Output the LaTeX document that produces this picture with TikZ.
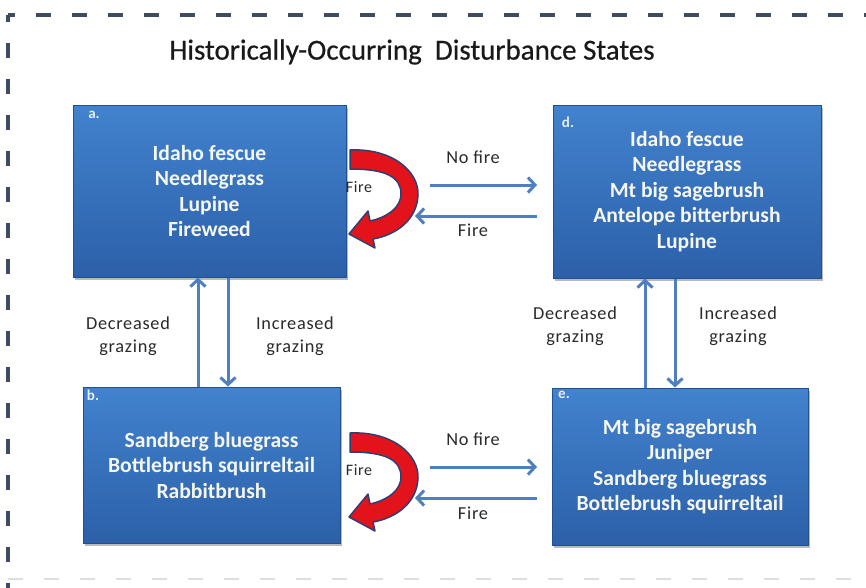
\documentclass[tikz,border=0pt]{standalone}
\usepackage{fontspec}
\setmainfont{Carlito}
\newfontfamily\spacedfont[LetterSpace=4]{Carlito}
\newfontfamily\titlefont[FakeBold=0.6]{Carlito}
\usetikzlibrary{arrows.meta,shadows}

\definecolor{boxtop}{HTML}{4282CE}
\definecolor{boxbot}{HTML}{2C60A9}
\definecolor{boxedge}{HTML}{22508E}
\definecolor{boxshine}{HTML}{7DB6F0}
\definecolor{flowblue}{HTML}{4F7FBF}
\definecolor{firered}{HTML}{E3131B}
\definecolor{fireedge}{HTML}{2E3F74}
\definecolor{framecol}{HTML}{3E4B61}
\definecolor{labelgray}{HTML}{2A2A2A}
\definecolor{boxtext}{HTML}{F5F7EE}

\begin{document}
\begin{tikzpicture}[x=1pt,y=-1pt,
  statebox/.style={rectangle, draw=boxedge, line width=1pt,
    top color=boxtop, bottom color=boxbot, text=boxtext,
    font=\fontsize{21.6}{25.5}\selectfont\bfseries, align=center, inner sep=0pt,
    drop shadow={shadow xshift=2pt, shadow yshift=-3pt, opacity=0.45, fill=black!60},
    path picture={\draw[boxshine, line width=2.5pt]
      (path picture bounding box.north west) -- (path picture bounding box.north east);}},
  tag/.style={text=boxtext!92!boxtop, font=\fontsize{15}{17}\selectfont\bfseries},
  flow/.style={draw=flowblue, line width=3pt,
    -{Straight Barb[length=7pt,width=15pt]}},
  edgelabel/.style={text=labelgray, font=\spacedfont\fontsize{18.3}{23}\selectfont, align=center},
  firelabel/.style={text=labelgray, font=\spacedfont\fontsize{16}{18}\selectfont},
  firecurl/.pic={
    \filldraw[fill=firered, draw=fireedge, line width=1.5pt, line join=round]
      (350,150) .. controls (393,148) and (419,172) .. (418,195)
      .. controls (417,220) and (396,235) .. (373,239)
      -- (375,248) -- (349,234) -- (368,211) -- (370,221)
      .. controls (388,217) and (401,207) .. (401,194)
      .. controls (401,177) and (386,169) .. (350,169) -- cycle;
  }
]
\useasboundingbox (0,0) rectangle (866,587);
\fill[white] (0,0) rectangle (866,587);

% dashed frame
\draw[framecol, line width=3.2pt, dash pattern=on 15pt off 21pt, dash phase=8pt]
  (8,15) -- (870,15);
\draw[framecol, line width=3.2pt, dash pattern=on 15pt off 21pt, dash phase=8pt]
  (8,15) -- (8,590);
\draw[framecol!18, line width=2.5pt, dash pattern=on 15pt off 21pt]
  (8,579) -- (866,579);

% title
\node[text=black!90, font=\titlefont\fontsize{29}{32}\selectfont] (title) at (412,52)
  {Historically-Occurring\ \ Disturbance States};

% states
\node[statebox, minimum width=273pt, minimum height=172pt] (a) at (209.5,191)
  {Idaho fescue\\Needlegrass\\Lupine\\Fireweed};
\node[statebox, minimum width=268pt, minimum height=173pt] (d) at (687,191.5)
  {Idaho fescue\\Needlegrass\\Mt big sagebrush\\Antelope bitterbrush\\Lupine};
\node[statebox, minimum width=257pt, minimum height=156pt] (b) at (211.5,465)
  {Sandberg bluegrass\\Bottlebrush squirreltail\\Rabbitbrush};
\node[statebox, minimum width=256pt, minimum height=157pt] (e) at (680,466.5)
  {Mt big sagebrush\\Juniper\\Sandberg bluegrass\\Bottlebrush squirreltail};

\node[tag] (ta) at (94,115) {a.};
\node[tag] (td) at (568,122) {d.};
\node[tag] (tb) at (93,395) {b.};
\node[tag] (te) at (564,395) {e.};

% grazing transitions
\coordinate (xl1) at (198,0);
\coordinate (xl2) at (228,0);
\coordinate (xr1) at (645,0);
\coordinate (xr2) at (675,0);
\draw[flow] (b.north -| xl1) -- (a.south -| xl1);
\draw[flow] (a.south -| xl2) -- (b.north -| xl2);
\draw[flow] (e.north -| xr1) -- (d.south -| xr1);
\draw[flow] (d.south -| xr2) -- (e.north -| xr2);

\node[edgelabel] (dl) at (128,336) {Decreased\\grazing};
\node[edgelabel] (il) at (295,336) {Increased\\grazing};
\node[edgelabel] (dr) at (575,326) {Decreased\\grazing};
\node[edgelabel] (ir) at (738,326) {Increased\\grazing};

% fire transitions
\pic at (0,0) {firecurl};
\pic at (0,283) {firecurl};
\node[firelabel] (fa) at (359,187) {Fire};
\node[firelabel] (fb) at (359,470) {Fire};

\coordinate (n1s) at (430,185);
\coordinate (n1e) at (537,185);
\coordinate (f1s) at (537,216);
\coordinate (f1e) at (415,216);
\coordinate (n2s) at (430,467);
\coordinate (n2e) at (537,467);
\coordinate (f2s) at (537,498);
\coordinate (f2e) at (415,498);
\draw[flow] (n1s) -- (n1e);
\draw[flow] (f1s) -- (f1e);
\draw[flow] (n2s) -- (n2e);
\draw[flow] (f2s) -- (f2e);

\node[edgelabel] (nf1) at (473,157) {No fire};
\node[edgelabel] (ff1) at (473,230) {Fire};
\node[edgelabel] (nf2) at (473,439) {No fire};
\node[edgelabel] (ff2) at (473,513) {Fire};
\end{tikzpicture}
\end{document}
